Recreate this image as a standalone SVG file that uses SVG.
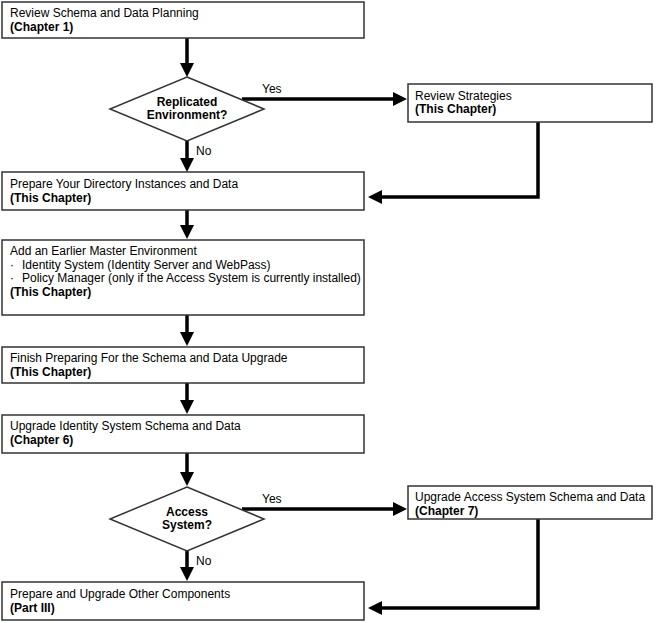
<svg xmlns="http://www.w3.org/2000/svg" width="656" height="623" viewBox="0 0 656 623">
<style>
.box{fill:#fff;stroke:#333;stroke-width:1.5}
.t{font-family:"Liberation Sans",Arial,sans-serif;font-size:12px;fill:#000}
.b{font-weight:bold}
.c{text-anchor:middle}
.con{fill:none;stroke:#000;stroke-width:3.5}
</style>
<defs>
<marker id="ah" viewBox="0 0 14 14" markerWidth="14" markerHeight="14" refX="4" refY="7" orient="auto" markerUnits="userSpaceOnUse">
<path d="M0,0 L14,7 L0,14 z" fill="#000"/>
</marker>
</defs>
<rect width="656" height="623" fill="#fff"/>
<g id="connectors">
<line class="con" x1="187" y1="38" x2="187" y2="67" marker-end="url(#ah)"/>
<line class="con" x1="187" y1="141" x2="187" y2="162" marker-end="url(#ah)"/>
<line class="con" x1="242" y1="99" x2="397" y2="99" marker-end="url(#ah)"/>
<polyline class="con" points="538,122 538,197 378,197" marker-end="url(#ah)"/>
<line class="con" x1="187" y1="210" x2="187" y2="229" marker-end="url(#ah)"/>
<line class="con" x1="187" y1="315" x2="187" y2="336" marker-end="url(#ah)"/>
<line class="con" x1="187" y1="383" x2="187" y2="404" marker-end="url(#ah)"/>
<line class="con" x1="187" y1="453" x2="187" y2="476" marker-end="url(#ah)"/>
<line class="con" x1="242" y1="509" x2="397" y2="509" marker-end="url(#ah)"/>
<line class="con" x1="187" y1="551" x2="187" y2="571" marker-end="url(#ah)"/>
<polyline class="con" points="538,519 538,608 378,608" marker-end="url(#ah)"/>
<text class="t" x="262" y="93">Yes</text>
<text class="t" x="196" y="155">No</text>
<text class="t" x="262" y="503">Yes</text>
<text class="t" x="196" y="565">No</text>
</g>
<g id="n1">
<rect class="box" x="2" y="2" width="362" height="36"/>
<text class="t" x="10" y="17">Review Schema and Data Planning</text>
<text class="t b" x="10" y="30.5">(Chapter 1)</text>
</g>
<g id="d1">
<polygon class="box" points="187,77 264,109 187,141 110,109"/>
<text class="t b c" x="187" y="106">Replicated</text>
<text class="t b c" x="187" y="118.5">Environment?</text>
</g>
<g id="n2">
<rect class="box" x="408" y="84" width="244" height="38"/>
<text class="t" x="415" y="99.5">Review Strategies</text>
<text class="t b" x="415" y="113">(This Chapter)</text>
</g>
<g id="n3">
<rect class="box" x="2" y="172" width="362" height="38"/>
<text class="t" x="10" y="188">Prepare Your Directory Instances and Data</text>
<text class="t b" x="10" y="201.5">(This Chapter)</text>
</g>
<g id="n4">
<rect class="box" x="2" y="240" width="362" height="75"/>
<text class="t" x="10" y="255">Add an Earlier Master Environment</text>
<text class="t" x="10" y="268.5">·</text>
<text class="t" x="22" y="268.5">Identity System (Identity Server and WebPass)</text>
<text class="t" x="10" y="282">·</text>
<text class="t" x="22" y="282">Policy Manager (only if the Access System is currently installed)</text>
<text class="t b" x="10" y="295.5">(This Chapter)</text>
</g>
<g id="n5">
<rect class="box" x="2" y="347" width="362" height="36"/>
<text class="t" x="10" y="362">Finish Preparing For the Schema and Data Upgrade</text>
<text class="t b" x="10" y="375.5">(This Chapter)</text>
</g>
<g id="n6">
<rect class="box" x="2" y="415" width="362" height="38"/>
<text class="t" x="10" y="430">Upgrade Identity System Schema and Data</text>
<text class="t b" x="10" y="443.5">(Chapter 6)</text>
</g>
<g id="d2">
<polygon class="box" points="187,487 264,519 187,551 110,519"/>
<text class="t b c" x="187" y="516">Access</text>
<text class="t b c" x="187" y="528.5">System?</text>
</g>
<g id="n7">
<rect class="box" x="408" y="486" width="244" height="33"/>
<text class="t" x="415" y="501">Upgrade Access System Schema and Data</text>
<text class="t b" x="415" y="514.5">(Chapter 7)</text>
</g>
<g id="n8">
<rect class="box" x="2" y="582" width="362" height="38"/>
<text class="t" x="10" y="598">Prepare and Upgrade Other Components</text>
<text class="t b" x="10" y="611.5">(Part III)</text>
</g>
</svg>
